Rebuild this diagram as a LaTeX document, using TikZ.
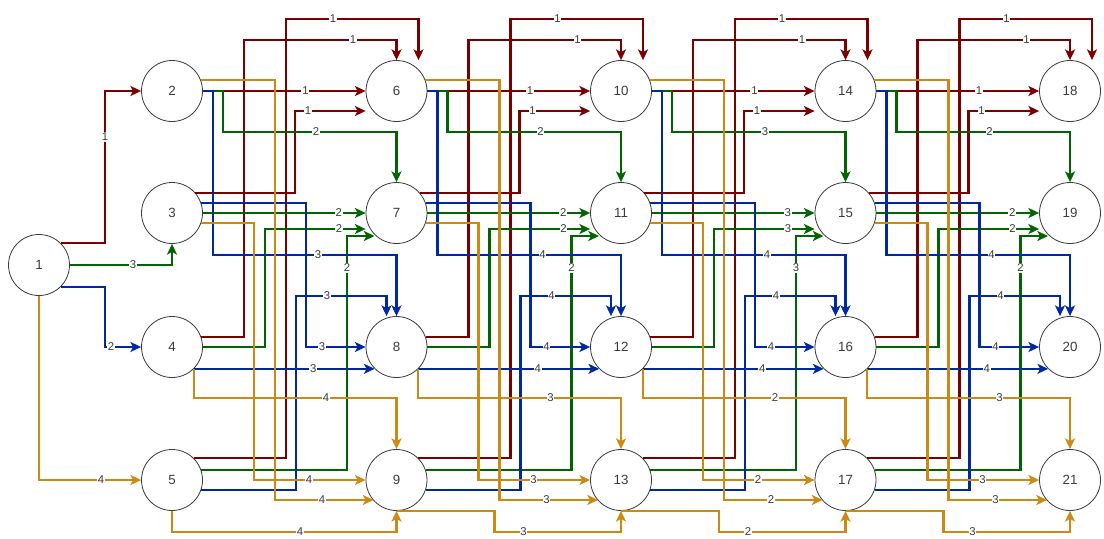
\documentclass[tikz,border=0pt]{standalone}
\usepackage{fontspec}
\setmainfont{Liberation Sans}
\usetikzlibrary{arrows.meta,calc}

\definecolor{edgeRed}{RGB}{122,0,0}
\definecolor{edgeGreen}{RGB}{0,100,0}
\definecolor{edgeBlue}{RGB}{0,40,160}
\definecolor{edgeOrange}{RGB}{204,138,20}
\definecolor{inkGray}{RGB}{60,60,60}

\tikzset{
  state/.style={circle, draw=inkGray, fill=white, line width=0.6pt, minimum size=45.75pt,
    inner sep=0pt, text=inkGray, font=\fontsize{10}{12}\selectfont},
  wire/.style={line width=1.6pt, -{Stealth[length=8pt,width=7.5pt,inset=2pt]}},
  lbl/.style={fill=white, inner sep=0.6pt, text=inkGray, font=\fontsize{8.5}{10}\selectfont},
}

\begin{document}
\begin{tikzpicture}[x=0.75pt,y=0.75pt,yscale=-1,xscale=1]
\useasboundingbox (0,0) rectangle (1104,539);

% States: the source and five columns of four
\node[state] (n1) at (39,265) {1};
\foreach \c in {0,...,4}{
  \foreach \r/\y in {0/91,1/213,2/347,3/480}{
    \pgfmathtruncatemacro\k{2+4*\c+\r}
    \node[state] (n\k) at (172+224.5*\c,\y) {\k};
  }
}

% Edges out of the source
\draw[wire,edgeRed] (n1.45) -| (105,137) node[lbl]{1} |- (n2.west);
\draw[wire,edgeGreen] (n1.east) -- (133,265) node[lbl]{3} -| (n3.south);
\draw[wire,edgeBlue] (n1.-45) -| (105,347) -- (111,347) node[lbl]{2} -- (n4.west);
\draw[wire,edgeOrange] (n1.south) |- (101,480) node[lbl]{4} -- (n5.west);

% Edges between neighbouring columns (labels: red/green/blue/orange)
\foreach \s/\lr/\lg/\lb/\lo in {0/1/2/3/4,1/1/2/4/3,2/1/3/4/2,3/1/2/4/3}{
  \pgfmathsetmacro\xs{172+224.5*\s}
  \pgfmathtruncatemacro\pa{2+4*\s}
  \pgfmathtruncatemacro\pb{\pa+1}
  \pgfmathtruncatemacro\pc{\pa+2}
  \pgfmathtruncatemacro\pd{\pa+3}
  \pgfmathtruncatemacro\qa{\pa+4}
  \pgfmathtruncatemacro\qb{\pa+5}
  \pgfmathtruncatemacro\qc{\pa+6}
  \pgfmathtruncatemacro\qd{\pa+7}
  % into the top row
  \draw[wire,edgeRed] (n\pa.east) -- node[lbl,pos=0.63]{\lr} (n\qa.west);
  \draw[wire,edgeRed] (n\pb.41) -| (\xs+123,111) -- (\xs+136,111) node[lbl]{\lr} -- ($(n\qa.west)+(0,20)$);
  \draw[wire,edgeRed] (n\pc.19) -| (\xs+72,40) -- (\xs+181,40) node[lbl]{\lr} -| (n\qa.north);
  \draw[wire,edgeRed] (n\pd.45) -| (\xs+114,19) -- (\xs+161,19) node[lbl]{\lr} -| ($(n\qa.north)+(22,0)$);
  % into the second row
  \draw[wire,edgeGreen] (n\pa.east) -| (\xs+51,132) -- (\xs+144,132) node[lbl]{\lg} -| (n\qb.north);
  \draw[wire,edgeGreen] (n\pb.east) -- node[lbl,pos=0.835]{\lg} (n\qb.west);
  \draw[wire,edgeGreen] (n\pc.east) -| (\xs+93,229) -- (\xs+167,229) node[lbl]{\lg} -- ($(n\qb.west)+(0,16)$);
  \draw[wire,edgeGreen] (n\pd.19) -| (\xs+175,268) node[lbl]{\lg} -- (\xs+175,236) -- ($(n\qb)+(-22,23)$);
  % into the third row
  \draw[wire,edgeBlue] (n\pa.east) -| (\xs+41,255) -- (\xs+146,255) node[lbl]{\lb} -| (n\qc.north);
  \draw[wire,edgeBlue] (n\pb.19) -| (\xs+134,347) -- (\xs+150,347) node[lbl]{\lb} -- (n\qc.west);
  \draw[wire,edgeBlue] (n\pc.-45) -- node[lbl,pos=0.66]{\lb} (n\qc.-135);
  \draw[wire,edgeBlue] (n\pd.-19) -| (\xs+124,296) -- (\xs+155,296) node[lbl]{\lb} -| ($(n\qc.north)+(-10,0)$);
  % into the bottom row
  \draw[wire,edgeOrange] (n\pa.21) -| (\xs+103,500) -- (\xs+150,500) node[lbl]{\lo} -- ($(n\qd)+(-23,20)$);
  \draw[wire,edgeOrange] (n\pb.-19) -| (\xs+82,480) -- (\xs+137,480) node[lbl]{\lo} -- (n\qd.west);
  \draw[wire,edgeOrange] (n\pc.-45) |- (\xs+154,398) node[lbl]{\lo} -| (n\qd.north);
  \ifnum\s=0
    \draw[wire,edgeOrange] (n\pd.south) |- (\xs+128,532) node[lbl]{\lo} -| (n\qd.south);
  \else
    \draw[wire,edgeOrange] (n\pd.south) -| (\xs+98,532) -- (\xs+127,532) node[lbl]{\lo} -| (n\qd.south);
  \fi
}

\end{tikzpicture}
\end{document}
